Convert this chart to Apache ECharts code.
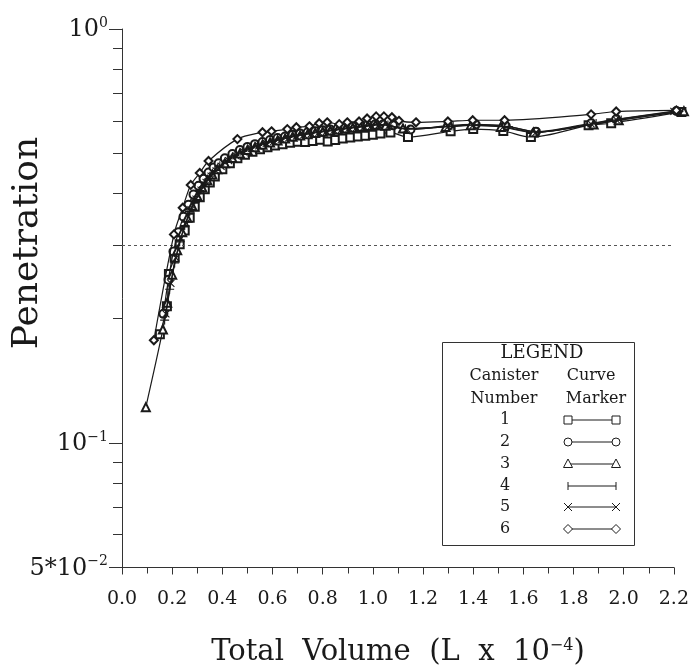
<!DOCTYPE html>
<html><head><meta charset="utf-8">
<script src="https://cdn.jsdelivr.net/npm/echarts@6/dist/echarts.min.js"></script>
<style>html,body{margin:0;padding:0;background:#fff}#c{width:692px;height:672px}</style>
</head><body><div id="c"></div>
<script>
// ---- data (Total Volume, L x 10^-4  vs  Penetration) ----
const canisterNames = ['1', '2', '3', '4', '5', '6'];

const x1 = [0.151, 0.179, 0.187, 0.21, 0.23, 0.25, 0.27, 0.29, 0.31, 0.33, 0.35, 0.37, 0.40, 0.43, 0.46, 0.49, 0.52, 0.55, 0.58, 0.61, 0.64, 0.67, 0.70, 0.73, 0.76, 0.79, 0.82, 0.85, 0.88, 0.91, 0.94, 0.97, 1.00, 1.03, 1.07, 1.14, 1.31, 1.40, 1.52, 1.63, 1.86, 1.95, 2.23];
const y1 = [0.183, 0.214, 0.256, 0.28, 0.302, 0.326, 0.35, 0.372, 0.392, 0.41, 0.426, 0.44, 0.458, 0.474, 0.487, 0.497, 0.505, 0.512, 0.518, 0.523, 0.527, 0.531, 0.534, 0.533, 0.536, 0.54, 0.535, 0.539, 0.544, 0.547, 0.55, 0.552, 0.555, 0.559, 0.562, 0.548, 0.566, 0.573, 0.567, 0.548, 0.585, 0.592, 0.63];

const x2 = [0.165, 0.185, 0.205, 0.225, 0.245, 0.265, 0.285, 0.305, 0.325, 0.345, 0.365, 0.385, 0.41, 0.44, 0.47, 0.50, 0.53, 0.56, 0.59, 0.62, 0.65, 0.68, 0.71, 0.74, 0.77, 0.80, 0.83, 0.86, 0.89, 0.92, 0.95, 0.98, 1.01, 1.04, 1.08, 1.15, 1.30, 1.41, 1.53, 1.65, 1.87, 1.97, 2.21];
const y2 = [0.205, 0.248, 0.29, 0.323, 0.352, 0.376, 0.398, 0.418, 0.435, 0.45, 0.463, 0.474, 0.487, 0.499, 0.51, 0.519, 0.527, 0.533, 0.539, 0.545, 0.55, 0.555, 0.559, 0.563, 0.566, 0.569, 0.572, 0.575, 0.578, 0.581, 0.584, 0.587, 0.589, 0.588, 0.585, 0.572, 0.584, 0.588, 0.583, 0.565, 0.592, 0.605, 0.634];

const x3 = [0.095, 0.163, 0.18, 0.20, 0.22, 0.24, 0.26, 0.28, 0.30, 0.32, 0.34, 0.36, 0.38, 0.41, 0.44, 0.47, 0.50, 0.53, 0.56, 0.59, 0.62, 0.65, 0.68, 0.71, 0.74, 0.77, 0.80, 0.83, 0.86, 0.89, 0.92, 0.95, 0.98, 1.01, 1.05, 1.12, 1.29, 1.39, 1.51, 1.64, 1.88, 1.98, 2.24];
const y3 = [0.122, 0.188, 0.218, 0.255, 0.292, 0.323, 0.35, 0.374, 0.395, 0.414, 0.431, 0.445, 0.458, 0.474, 0.488, 0.5, 0.51, 0.518, 0.525, 0.532, 0.538, 0.544, 0.549, 0.553, 0.557, 0.561, 0.565, 0.568, 0.571, 0.574, 0.577, 0.58, 0.583, 0.586, 0.584, 0.575, 0.58, 0.585, 0.58, 0.562, 0.588, 0.602, 0.633];

const x4 = [0.17, 0.19, 0.21, 0.23, 0.25, 0.27, 0.29, 0.31, 0.33, 0.35, 0.37, 0.39, 0.42, 0.45, 0.48, 0.51, 0.54, 0.57, 0.60, 0.63, 0.66, 0.69, 0.72, 0.75, 0.78, 0.81, 0.84, 0.87, 0.90, 0.93, 0.96, 0.99, 1.02, 1.06, 1.13, 1.32, 1.42, 1.54, 1.66, 1.89, 1.99, 2.22];
const y4 = [0.198, 0.235, 0.272, 0.306, 0.335, 0.362, 0.386, 0.407, 0.425, 0.441, 0.455, 0.467, 0.482, 0.495, 0.506, 0.515, 0.523, 0.53, 0.536, 0.542, 0.547, 0.552, 0.556, 0.56, 0.564, 0.567, 0.57, 0.573, 0.576, 0.579, 0.582, 0.585, 0.588, 0.586, 0.574, 0.583, 0.587, 0.581, 0.564, 0.591, 0.603, 0.632];

const x5 = [0.175, 0.195, 0.215, 0.235, 0.255, 0.275, 0.295, 0.315, 0.335, 0.355, 0.375, 0.395, 0.425, 0.455, 0.485, 0.515, 0.545, 0.575, 0.605, 0.635, 0.665, 0.695, 0.725, 0.755, 0.785, 0.815, 0.845, 0.875, 0.905, 0.935, 0.965, 0.995, 1.025, 1.065, 1.135, 1.30, 1.40, 1.52, 1.65, 1.87, 1.97, 2.20];
const y5 = [0.205, 0.243, 0.28, 0.312, 0.34, 0.366, 0.388, 0.408, 0.426, 0.441, 0.454, 0.466, 0.481, 0.494, 0.505, 0.514, 0.522, 0.529, 0.535, 0.541, 0.546, 0.551, 0.555, 0.559, 0.563, 0.566, 0.569, 0.572, 0.575, 0.578, 0.581, 0.584, 0.587, 0.585, 0.573, 0.581, 0.586, 0.58, 0.563, 0.59, 0.604, 0.632];

const x6 = [0.127, 0.207, 0.242, 0.274, 0.31, 0.345, 0.46, 0.56, 0.596, 0.659, 0.695, 0.747, 0.786, 0.818, 0.866, 0.898, 0.945, 0.977, 1.013, 1.044, 1.076, 1.104, 1.172, 1.299, 1.398, 1.525, 1.87, 1.97, 2.21];
const y6 = [0.177, 0.319, 0.37, 0.42, 0.449, 0.48, 0.542, 0.563, 0.566, 0.573, 0.579, 0.582, 0.592, 0.595, 0.589, 0.595, 0.598, 0.608, 0.615, 0.615, 0.612, 0.6, 0.595, 0.598, 0.602, 0.602, 0.622, 0.632, 0.636];

const referenceLevel = 0.3;

const xTickLabels = ['0.0','0.2','0.4','0.6','0.8','1.0','1.2','1.4','1.6','1.8','2.0','2.2'];
const yTickValues = [0.05, 0.06, 0.07, 0.08, 0.09, 0.1, 0.2, 0.3, 0.4, 0.5, 0.6, 0.7, 0.8, 0.9, 1];
const yLabelValues = [0.05, 0.1, 1];
const yLabelBase = ['5*10', '10', '10'];
const yLabelExp = ['\u22122', '\u22121', '0'];

// ---- chart ----
const FONT = 'DejaVu Serif';
const INK = '#1a1a1a';
const xs = [x1, x2, x3, x4, x5, x6];
const ys = [y1, y2, y3, y4, y5, y6];
const plusPath = 'path://M0,5L10,5M5,0L5,10';
const crossPath = 'path://M0,0L10,10M10,0L0,10';
const symbols = ['emptyRect', 'emptyCircle', 'emptyTriangle', plusPath, crossPath, 'emptyDiamond'];
const sizes = [8, 8, 8, 9, 7, 8];

const series = xs.map((xv, k) => ({
  name: canisterNames[k],
  type: 'line',
  xAxisIndex: 0, yAxisIndex: 0,
  smooth: 0.3,
  clip: false,
  data: xv.map((v, i) => [v, ys[k][i]]),
  symbol: symbols[k],
  symbolSize: sizes[k],
  showAllSymbol: true,
  lineStyle: { color: INK, width: 1.2 },
  itemStyle: { color: INK, borderColor: INK, borderWidth: 1.1 },
  z: 3 + k
}));
series.push({
  type: 'line', xAxisIndex: 0, yAxisIndex: 0, data: [], silent: true,
  markLine: {
    silent: true, symbol: ['none', 'none'], label: { show: false },
    lineStyle: { color: '#555', type: [3, 3], width: 1 },
    data: [{ yAxis: referenceLevel }]
  }
});

const L = Math.log10;
const yMinorLog = yTickValues.map(v => L(v));
const yMajorLog = yLabelValues.map(v => L(v));

// legend graphic
const legendRowsY = [420, 442, 464, 486, 507, 529];
const g = [];
g.push({ type: 'rect', shape: { x: 442.5, y: 342.5, width: 192, height: 203 }, style: { fill: 'none', stroke: '#333', lineWidth: 1 } });
const txt = (t, x, y, size) => ({ type: 'text', x, y, style: { text: t, font: size + 'px "' + FONT + '"', fill: INK, align: 'center', verticalAlign: 'middle', textAlign: 'center', textVerticalAlign: 'middle' } });
g.push(txt('LEGEND', 542, 353, 18));
g.push(txt('Canister', 504, 376, 16));
g.push(txt('Curve', 591, 376, 16));
g.push(txt('Number', 504, 399, 16));
g.push(txt('Marker', 596, 399, 16));
const mx0 = 568, mx1 = 616;
legendRowsY.forEach((ry, k) => {
  g.push(txt(canisterNames[k], 505, ry, 16));
  g.push({ type: 'line', shape: { x1: mx0, y1: ry, x2: mx1, y2: ry }, style: { stroke: INK, lineWidth: 1 } });
  [mx0, mx1].forEach(cx => {
    let el;
    const st = { fill: '#fff', stroke: INK, lineWidth: 1 };
    if (k === 0) el = { type: 'rect', shape: { x: cx - 4, y: ry - 4, width: 8, height: 8 }, style: st };
    else if (k === 1) el = { type: 'circle', shape: { cx, cy: ry, r: 4 }, style: st };
    else if (k === 2) el = { type: 'polygon', shape: { points: [[cx, ry - 5], [cx - 4.5, ry + 3.5], [cx + 4.5, ry + 3.5]] }, style: st };
    else if (k === 3) el = { type: 'polyline', shape: { points: [[cx, ry - 4], [cx, ry + 4]] }, style: { stroke: INK, lineWidth: 1, fill: 'none' } };
    else if (k === 4) el = { type: 'group', children: [
      { type: 'line', shape: { x1: cx - 4, y1: ry - 4, x2: cx + 4, y2: ry + 4 }, style: { stroke: INK, lineWidth: 1 } },
      { type: 'line', shape: { x1: cx - 4, y1: ry + 4, x2: cx + 4, y2: ry - 4 }, style: { stroke: INK, lineWidth: 1 } }] };
    else el = { type: 'polygon', shape: { points: [[cx, ry - 4.5], [cx + 4.5, ry], [cx, ry + 4.5], [cx - 4.5, ry]] }, style: st };
    g.push(el);
  });
});
g.push({ type: 'text', x: 28, y: 243, rotation: Math.PI / 2,
  style: { text: 'Penetration', font: '36px "' + FONT + '"', fill: INK, align: 'center', verticalAlign: 'middle', textAlign: 'center', textVerticalAlign: 'middle' } });

const chart = echarts.init(document.getElementById('c'), null, { renderer: 'canvas' });
chart.setOption({
  animation: false,
  backgroundColor: '#fff',
  grid: { left: 122, right: 17, top: 29, bottom: 101, containLabel: false },
  xAxis: [{
    type: 'value', min: 0, max: 2.2, interval: 0.2,
    axisLine: { onZero: false, lineStyle: { color: '#333', width: 1 } },
    axisTick: { show: true, length: 7, lineStyle: { color: '#333' } },
    minorTick: { show: true, splitNumber: 2, length: 6, lineStyle: { color: '#333' } },
    splitLine: { show: false },
    axisLabel: { margin: 22, fontFamily: FONT, fontSize: 19, color: INK,
      formatter: v => xTickLabels[Math.round(v / 0.2)] },
    name: 'Total  Volume  (L  x  10{s|\u22124})',
    nameLocation: 'middle', nameGap: 70,
    nameTextStyle: { fontFamily: FONT, fontSize: 29, color: INK,
      rich: { s: { fontFamily: FONT, fontSize: 16, color: INK, verticalAlign: 'bottom', padding: [0, 0, 14, 0] } } }
  }],
  yAxis: [
    { type: 'log', logBase: 10, min: 0.05, max: 1, show: false },
    { type: 'value', min: L(0.05), max: 0, position: 'left',
      axisLine: { show: true, lineStyle: { color: '#333', width: 1 } },
      axisTick: { show: true, length: 9, customValues: yMinorLog, lineStyle: { color: '#333' } },
      axisLabel: { show: false }, splitLine: { show: false } },
    { type: 'value', min: L(0.05), max: 0, position: 'left',
      axisLine: { show: false },
      axisTick: { show: true, length: 13, customValues: yMajorLog, lineStyle: { color: '#333' } },
      axisLabel: { show: true, margin: 14, customValues: yMajorLog,
        formatter: v => {
          let best = 0;
          yMajorLog.forEach((m, i) => { if (Math.abs(m - v) < Math.abs(yMajorLog[best] - v)) best = i; });
          return '{b|' + yLabelBase[best] + '}{s|' + yLabelExp[best] + '}';
        },
        rich: {
          b: { fontFamily: FONT, fontSize: 24, color: INK, verticalAlign: 'bottom' },
          s: { fontFamily: FONT, fontSize: 14, color: INK, verticalAlign: 'bottom', padding: [0, 0, 12, 0] }
        } },
      splitLine: { show: false } }
  ],
  series: series,
  graphic: g
});
</script>
</body></html>
